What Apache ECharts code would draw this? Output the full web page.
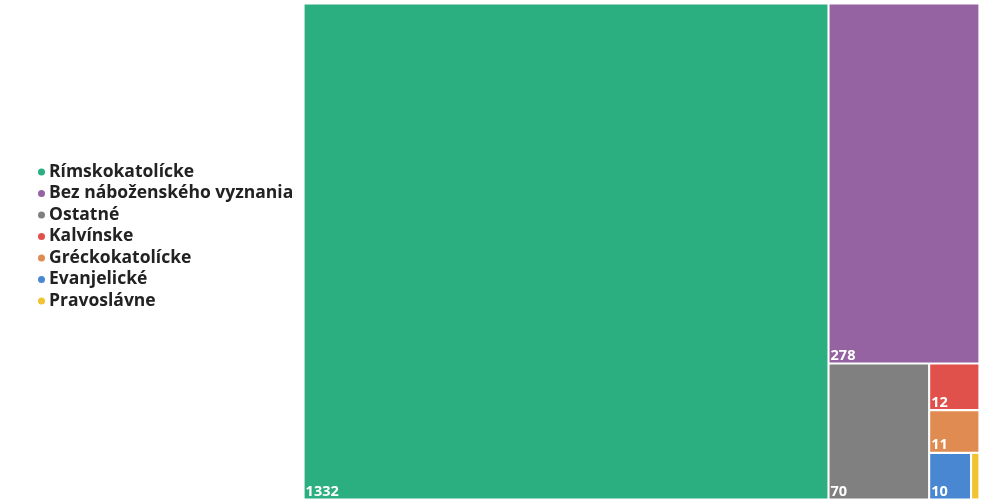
<!DOCTYPE html>
<html>
<head>
<meta charset="utf-8">
<script src="https://cdn.jsdelivr.net/npm/echarts@6/dist/echarts.min.js"></script>
<style>
html,body{margin:0;padding:0;background:#fff;}
#c{width:995px;height:502px;}
</style>
</head>
<body>
<div id="c"></div>
<script>
const categories = ['Rímskokatolícke','Bez náboženského vyznania','Ostatné','Kalvínske','Gréckokatolícke','Evanjelické','Pravoslávne'];
const values = [1332, 278, 70, 12, 11, 10, 2];
const colors = ['#2bae80','#9563a1','#808080','#e1514b','#e08b52','#4a87d2','#f1c232'];

const chart = echarts.init(document.getElementById('c'));
const treeData = categories.map((n,i)=>({
  name:n, value:values[i],
  itemStyle:{color:colors[i]},
  label:{show: values[i] >= 5}
}));
chart.setOption({
  animation:false,
  legend:{
    orient:'vertical', left:33, top:158,
    icon:'circle', itemWidth:7, itemHeight:7, itemGap:3.5,
    textStyle:{fontFamily:'Open Sans', fontWeight:'bold', fontSize:17.5, lineHeight:17, color:'#222', padding:[0,0,0,-1]},
    data:categories
  },
  series:[
    {
      type:'pie', radius:[0,0], center:[-100,-100], silent:true,
      label:{show:false}, labelLine:{show:false},
      data:categories.map((n,i)=>({name:n,value:values[i],itemStyle:{color:colors[i]}}))
    },
    {
      type:'treemap',
      left:303, top:3, width:677, height:497,
      roam:false, nodeClick:false,
      breadcrumb:{show:false},
      squareRatio:1,
      itemStyle:{borderColor:'#fff', borderWidth:0.8, gapWidth:0.5},
      label:{
        show:true, position:'insideBottomLeft', formatter:'{c}',
        color:'#fff', fontFamily:'Open Sans', fontWeight:'bold', fontSize:14.5,
        padding:[0,0,-1,1]
      },
      data:treeData
    }
  ]
});
</script>
</body>
</html>
